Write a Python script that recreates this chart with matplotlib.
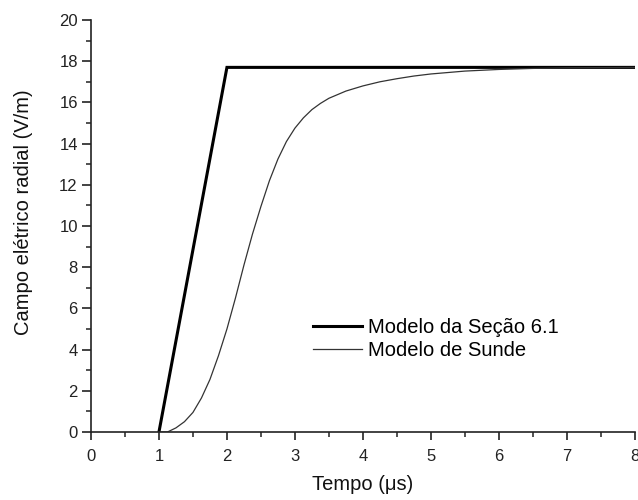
import matplotlib.pyplot as plt
from matplotlib.ticker import MultipleLocator

plt.rcParams['font.family'] = ['Liberation Sans', 'DejaVu Sans']

# Modelo da Seção 6.1: rampa linear seguida de patamar
t_secao = [1.0, 2.0, 8.0]
e_secao = [0.0, 17.7, 17.7]

# Modelo de Sunde
t_sunde = [1.0, 1.125, 1.25, 1.375, 1.5, 1.625, 1.75, 1.875, 2.0, 2.125,
           2.25, 2.375, 2.5, 2.625, 2.75, 2.875, 3.0, 3.125, 3.25, 3.375,
           3.5, 3.75, 4.0, 4.25, 4.5, 4.75, 5.0, 5.5, 6.0, 6.5, 7.0, 8.0]
e_sunde = [0.0, 0.0, 0.2, 0.5, 0.95, 1.65, 2.55, 3.7, 5.0, 6.5,
           8.1, 9.6, 10.95, 12.2, 13.25, 14.1, 14.75, 15.25, 15.65, 15.95,
           16.2, 16.55, 16.8, 17.0, 17.15, 17.28, 17.38, 17.52, 17.6, 17.65,
           17.68, 17.7]

fig = plt.figure(figsize=(6.38, 5.0), dpi=100)
ax = fig.add_axes([0.1426, 0.136, 0.8524, 0.824])

ax.plot(t_secao, e_secao, color='black', lw=2.2, label='Modelo da Seção 6.1',
        solid_joinstyle='miter')
ax.plot(t_sunde, e_sunde, color='#333333', lw=0.9, label='Modelo de Sunde')

ax.set_xlim(0, 8)
ax.set_ylim(0, 20)
ax.xaxis.set_major_locator(MultipleLocator(1))
ax.xaxis.set_minor_locator(MultipleLocator(0.5))
ax.yaxis.set_major_locator(MultipleLocator(2))
ax.yaxis.set_minor_locator(MultipleLocator(1))

for side in ['top', 'right']:
    ax.spines[side].set_visible(False)
for side in ['left', 'bottom']:
    ax.spines[side].set_linewidth(1.2)
    ax.spines[side].set_color('#222222')

ax.tick_params(which='major', direction='out', length=6.5, width=1.2,
               labelsize=12, pad=3, colors='#222222')
ax.tick_params(which='minor', direction='out', length=3.5, width=1.1,
               colors='#222222')
ax.tick_params(axis='x', which='major', length=6, pad=6)

ax.set_xlabel('Tempo (μs)', fontsize=14.5, color='#111111')
ax.set_ylabel('Campo elétrico radial (V/m)', fontsize=14.5, color='#111111')
ax.xaxis.set_label_coords(0.5, -0.105)
ax.yaxis.set_label_coords(-0.107, 0.534)

ax.legend(loc='upper left', bbox_to_anchor=(0.408, 0.277), frameon=False,
          fontsize=14.5, handlelength=2.45, handletextpad=0.3,
          labelspacing=0.2, borderpad=0, borderaxespad=0)

fig.savefig('out.png', dpi=100)
